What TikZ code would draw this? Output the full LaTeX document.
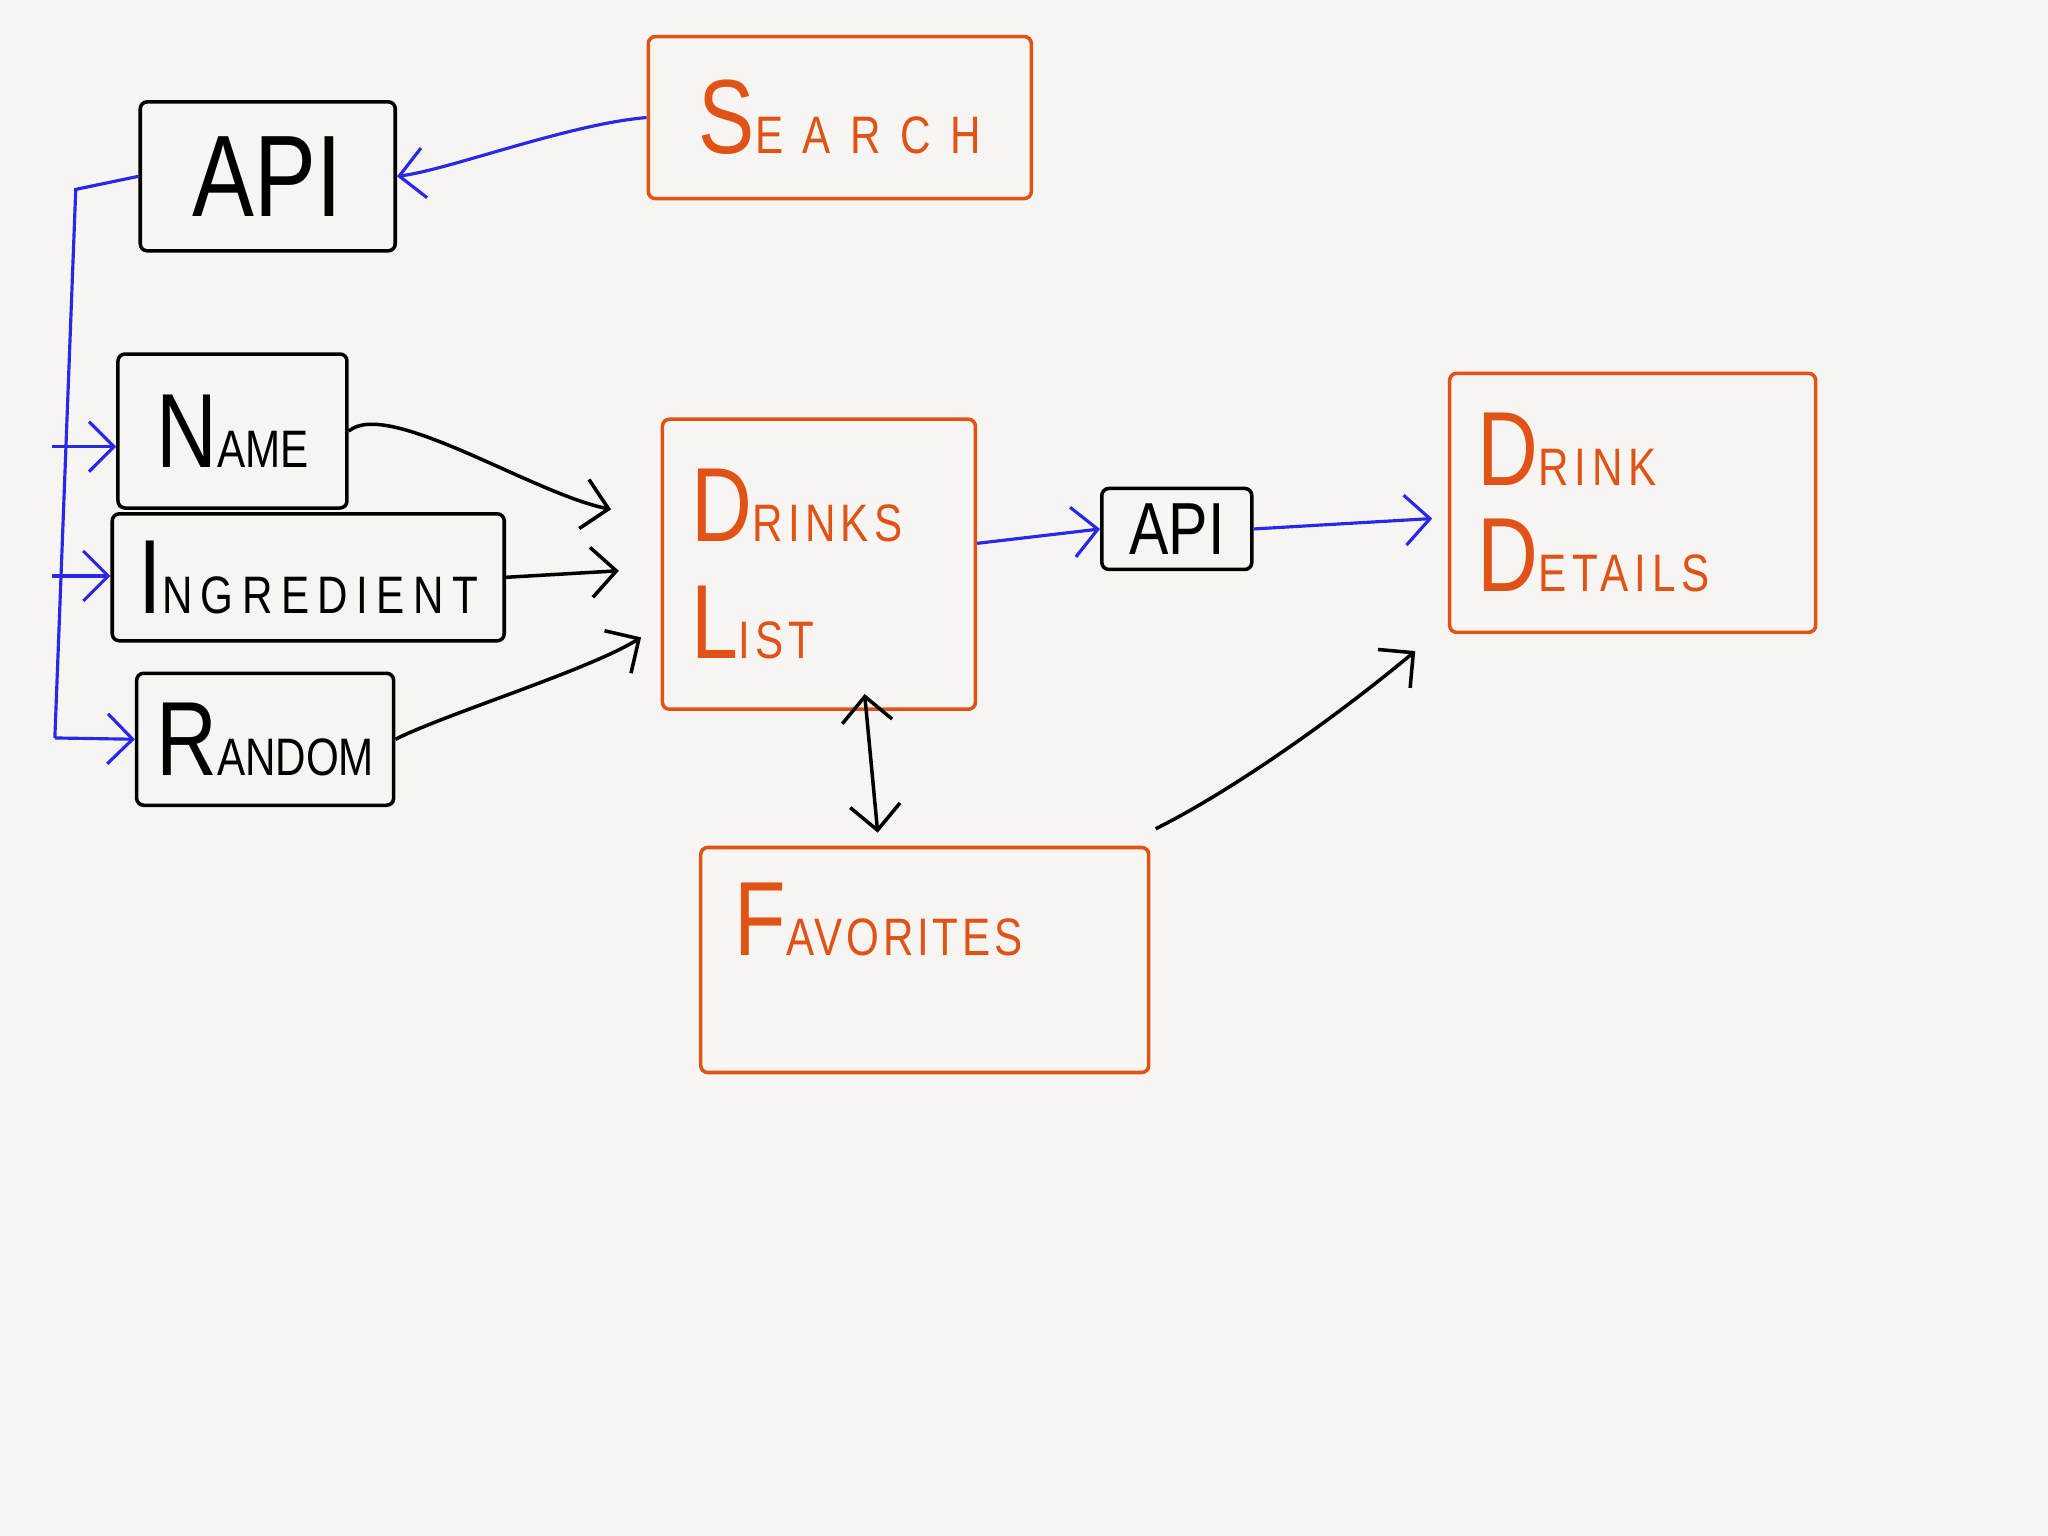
\documentclass[tikz,border=0pt]{standalone}
\usepackage{fontspec}
\setmainfont[FakeStretch=0.8]{Liberation Sans}
\usetikzlibrary{arrows.meta,calc}
\definecolor{sketchorange}{RGB}{225,82,22}
\definecolor{sketchblue}{RGB}{40,40,232}
\definecolor{paper}{RGB}{246,245,241}
\newcommand{\hw}[3][10]{{\fontsize{30}{32}\selectfont #2}{\addfontfeature{LetterSpace=#1}\fontsize{15}{16}\selectfont #3}}
\tikzset{
    block/.style = {draw, rectangle, line width=1pt, rounded corners=2pt,
        inner sep=2pt, align=center},
    oblock/.style = {block, draw=sketchorange, text=sketchorange},
    arrow/.style = {draw, line width=1pt, -{Straight Barb[length=2.5mm,width=5mm]}},
    darrow/.style = {arrow, {Straight Barb[length=2.5mm,width=5mm]}-{Straight Barb[length=2.5mm,width=5mm]}},
    barrow/.style = {arrow, draw=sketchblue, line width=0.9pt},
    bus/.style = {draw=sketchblue, line width=0.9pt}
}

\begin{document}
\begin{tikzpicture}[x=0.013061cm, y=-0.013061cm]
        \fill[paper] (0,0) rectangle (1568,1176);
        \node [block, minimum width=2.55cm, minimum height=1.49cm] (api) at (205,135) {\fontsize{33}{34}\selectfont API};
        \node [oblock, minimum width=3.83cm, minimum height=1.62cm] (search) at (643,90) {\hw[37]{S}{EARCH}};
        \node [block, minimum width=2.29cm, minimum height=1.54cm] (name) at (178,330) {\hw[0]{N}{AME}};
        \node [block, minimum width=3.92cm, minimum height=1.27cm] (ingr) at (236,442) {\hw[16]{I}{NGREDIENT}};
        \node [block, minimum width=2.57cm, minimum height=1.32cm] (random) at (203,566) {\hw[0]{R}{ANDOM}};
        \node [oblock, minimum width=3.13cm, minimum height=2.9cm, align=left, text width=2.55cm] (drinks) at (627,432) {\hw{D}{RINKS}\\[4mm]\hw{L}{IST}};
        \node [block, minimum width=1.5cm, minimum height=0.81cm] (apis) at (901,405) {\fontsize{21}{22}\selectfont API};
        \node [oblock, minimum width=3.66cm, minimum height=2.59cm, align=left, text width=3.1cm] (details) at (1250,385) {\hw[11]{D}{RINK}\\[3mm]\hw[11]{D}{ETAILS}};
        \node [oblock, minimum width=4.48cm, minimum height=2.25cm, align=left, text width=3.8cm] (fav) at (708,735) {\hw[7]{F}{AVORITES}\\[4mm]\mbox{}};

        \draw[barrow] (search.west) .. controls +(-60,5) and +(40,-5) .. (api.east);

        \coordinate (bustop) at (58,145);
        \coordinate (busbot) at (42,565);
        \coordinate (busn) at (40,342);
        \coordinate (busi) at (40,441);
        \draw[bus] (api.west) -- (bustop) -- (busbot);
        \draw[barrow] (busn) -- (name.west |- busn);
        \draw[barrow] (busi) -- (ingr.west |- busi);
        \draw[barrow] (busbot) -- (random.west);

        \draw[arrow] (name.east) .. controls +(30,-25) and +(-60,-12) .. ($(drinks.west)+(-38,-42)$);
        \draw[arrow] (ingr.east) -- ($(drinks.west)+(-32,5)$);
        \draw[arrow] (random.east) .. controls +(40,-20) and +(-40,25) .. ($(drinks.west)+(-15,56)$);

        \draw[barrow] ($(drinks.east)+(0,-16)$) -- (apis.west);
        \draw[barrow] (apis.east) -- ($(details.west)+(-12,12)$);
        \draw[darrow] ($(drinks.south)+(35,-13)$) -- ($(fav.north)+(-36,-10)$);
        \draw[arrow] ($(fav.north east)+(4,-13)$) .. controls +(60,-30) and +(-60,50) .. ($(details.south west)+(-25,13)$);
\end{tikzpicture}
\end{document}
